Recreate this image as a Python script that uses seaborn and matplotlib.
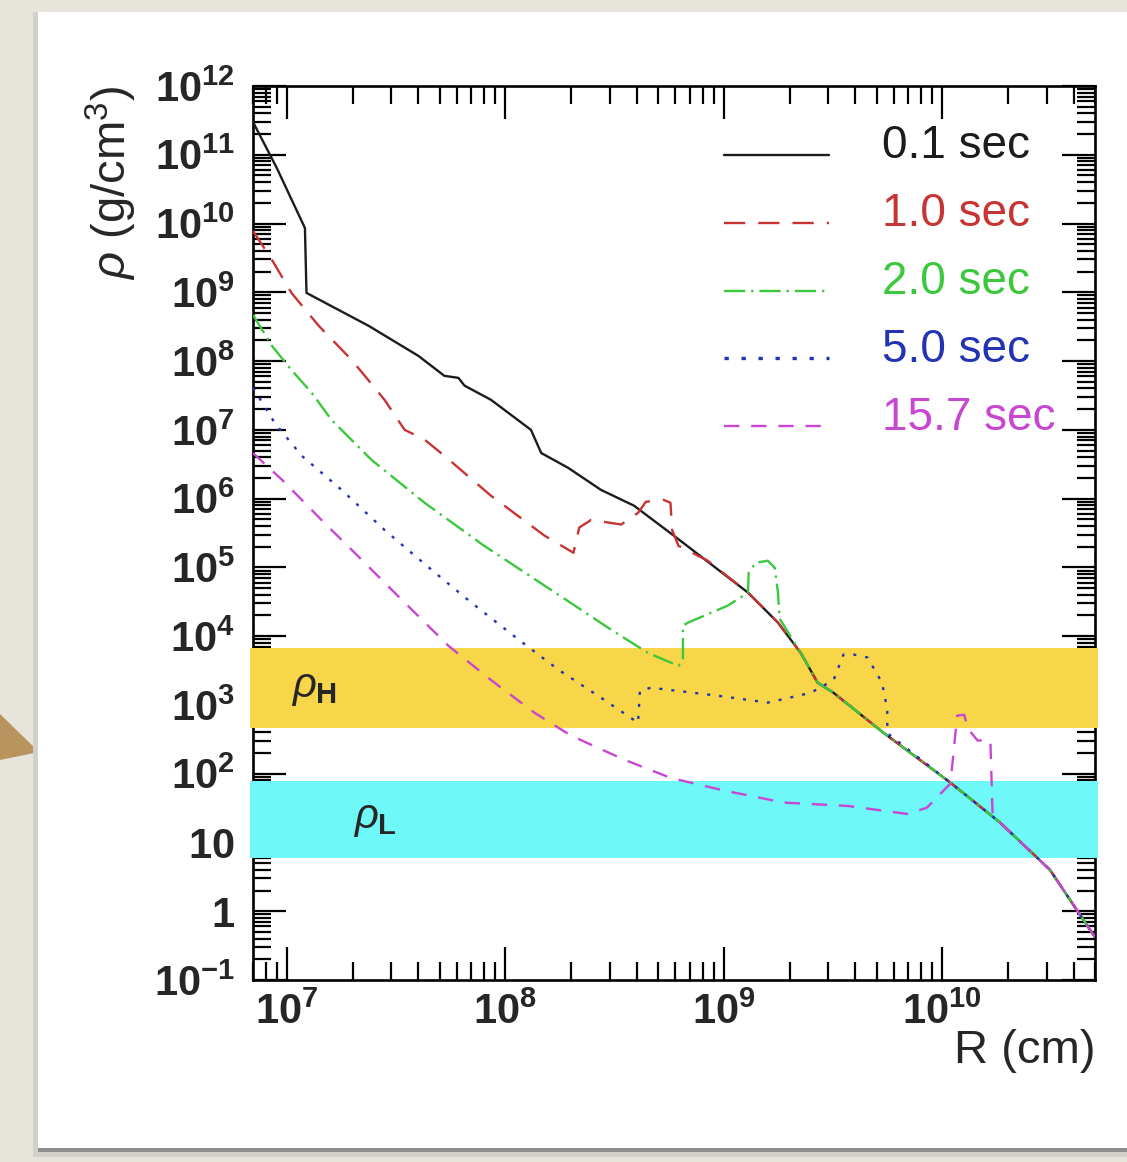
import numpy as np
import pandas as pd
import matplotlib
matplotlib.use("Agg")
import matplotlib.pyplot as plt
import seaborn as sns
from matplotlib.patches import Rectangle, Polygon
from matplotlib.ticker import LogLocator, FuncFormatter, NullFormatter

# ---- density profiles rho(R) at several times after bounce ----
# common outer envelope shared by all snapshots
r_tail = [1.29e9, 1.77e9, 2.25e9, 2.69e9, 3.18e9, 5.4e9, 1.09e10, 1.84e10, 3.11e10, 4.74e10, 5.0e10]
rho_tail = [4.3e4, 1.57e4, 5.7e3, 2.1e3, 1.5e3, 3.9e2, 74, 19.4, 4.0, 0.54, 0.42]

r_t01 = [7.0e6, 9.0e6, 1.21e7, 1.23e7, 2.37e7, 4.0e7, 5.26e7, 6.1e7, 6.5e7, 8.6e7,
         1.31e8, 1.46e8, 1.94e8, 2.74e8, 3.88e8, 5.9e8]
rho_t01 = [3.0e11, 6.4e10, 8.6e9, 9.8e8, 3.25e8, 1.19e8, 6.1e7, 5.7e7, 4.4e7, 2.73e7,
           1.0e7, 4.6e6, 2.8e6, 1.34e6, 7.9e5, 2.9e5]

r_t10 = [7.0e6, 8.55e6, 1.05e7, 1.40e7, 1.98e7, 2.80e7, 3.46e7, 4.27e7, 5.26e7, 8.6e7,
         1.51e8, 2.05e8, 2.18e8, 2.47e8, 3.39e8, 4.05e8, 4.4e8, 5.3e8, 5.7e8, 5.8e8,
         6.2e8, 8.45e8]
rho_t10 = [7.8e9, 2.96e9, 9.8e8, 3.25e8, 1.04e8, 2.73e7, 1.0e7, 7.2e6, 4.2e6, 1.1e6,
           2.9e5, 1.63e5, 3.8e5, 4.9e5, 4.2e5, 6.2e5, 9.0e5, 9.6e5, 8.7e5, 3.5e5,
           2.06e5, 1.25e5]

r_t20 = [7.0e6, 8.55e6, 1.05e7, 1.30e7, 1.60e7, 2.44e7, 4.27e7, 8.0e7, 1.62e8, 3.05e8,
         4.5e8, 6.2e8, 6.5e8, 6.5e8, 6.85e8, 1.04e9, 1.29e9, 1.3e9, 1.4e9, 1.59e9,
         1.71e9, 1.77e9, 1.8e9]
rho_t20 = [4.7e8, 1.66e8, 7.4e7, 3.45e7, 1.40e7, 3.66e6, 8.7e5, 2.06e5, 4.7e4, 1.24e4,
           5.7e3, 3.7e3, 4.5e3, 1.42e4, 1.57e4, 2.77e4, 4.3e4, 8.4e4, 1.17e5, 1.25e5,
           9.9e4, 4.3e4, 1.8e4]

r_t50 = [7.0e6, 8.8e6, 1.17e7, 1.78e7, 2.80e7, 4.6e7, 7.0e7, 1.15e8, 1.75e8, 2.83e8,
         4.05e8, 4.13e8, 4.64e8, 9.4e8, 1.59e9, 2.5e9, 3.18e9, 3.53e9, 3.93e9, 4.55e9,
         5.3e9, 5.6e9, 5.6e9]
rho_t50 = [4.1e7, 1.26e7, 4.2e6, 1.34e6, 3.5e5, 9.2e4, 3.06e4, 8.9e3, 3.25e3, 1.19e3,
           5.5e2, 1.61e3, 1.78e3, 1.36e3, 1.08e3, 1.5e3, 2.3e3, 5.4e3, 5.4e3, 4.9e3,
           2.1e3, 8.6e2, 3.9e2]

r_t157 = [7.0e6, 9.5e6, 1.44e7, 2.2e7, 3.35e7, 5.5e7, 8.6e7, 1.36e8, 2.0e8, 3.5e8,
          5.7e8, 1.0e9, 1.88e9, 3.68e9, 6.9e9, 8.5e9, 1.09e10, 1.17e10, 1.26e10, 1.31e10,
          1.45e10, 1.66e10, 1.7e10]
rho_t157 = [4.6e6, 1.88e6, 4.9e5, 1.29e5, 3.4e4, 7.2e3, 2.3e3, 770, 357, 160,
            87, 57, 38, 34, 26, 32, 72, 700, 720, 450,
            304, 304, 24]

labels = ["0.1 sec", "1.0 sec", "2.0 sec", "5.0 sec", "15.7 sec"]
colors = ["#1c1c1c", "#c83434", "#3cc83c", "#2432b4", "#c846d2"]

# density bands (g/cm^3)
band_H = (4.6e2, 6.7e3)
band_L = (6.0, 78.0)


def profile(r, rho, r_env, rho_env, start):
    return list(r) + list(r_env[start:]), list(rho) + list(rho_env[start:])


series = [
    profile(r_t01, rho_t01, r_tail, rho_tail, 0),
    profile(r_t10, rho_t10, r_tail, rho_tail, 0),
    profile(r_t20, rho_t20, r_tail, rho_tail, 2),
    profile(r_t50, rho_t50, r_tail, rho_tail, 6),
    profile(r_t157, rho_t157, r_tail, rho_tail, 7),
]

frames = []
for lab, (r, rho) in zip(labels, series):
    frames.append(pd.DataFrame({"R": r, "rho": rho, "t": lab}))
df = pd.concat(frames, ignore_index=True)

sns.set_style("white")
plt.rcParams["font.family"] = ["Liberation Sans", "DejaVu Sans"]
plt.rcParams["mathtext.fontset"] = "custom"
plt.rcParams["mathtext.rm"] = "Liberation Sans"
plt.rcParams["mathtext.it"] = "Liberation Sans:italic"
plt.rcParams["mathtext.bf"] = "Liberation Sans:bold"

W, H = 1127, 1162
fig = plt.figure(figsize=(W / 100, H / 100), dpi=100)
fig.patch.set_facecolor("#e7e4dc")


def fx(px):
    return px / W


def fy(py):
    return 1 - py / H


# paper card with its shadow and the pointer wedge on the left
deco = [
    Polygon([(fx(0), fy(714)), (fx(39), fy(752)), (fx(0), fy(760))], closed=True,
            facecolor="#b8955f"),
    Rectangle((fx(33), fy(1157)), fx(1127 - 33), fy(12) - fy(1157), facecolor="#d2d0cb"),
    Rectangle((fx(38), fy(1152)), fx(1127 - 38), fy(1148) - fy(1152), facecolor="#8e8e8c"),
    Rectangle((fx(38), fy(1148)), fx(1127 - 38), fy(12) - fy(1148), facecolor="white"),
]
for k, p in enumerate(deco):
    p.set_transform(fig.transFigure)
    p.set_edgecolor("none")
    p.set_zorder(-5 + k * 0.1)
    fig.patches.append(p)

ax = fig.add_axes([fx(253), fy(980), fx(1095 - 253), fy(86) - fy(980)])
ax.set_facecolor("none")

palette = dict(zip(labels, colors))
dashes = {
    "0.1 sec": "",
    "1.0 sec": (9, 5.5),
    "2.0 sec": (9, 2.5, 1, 2.5),
    "5.0 sec": (1.3, 3.8),
    "15.7 sec": (6.5, 5),
}

sns.lineplot(data=df, x="R", y="rho", hue="t", style="t",
             palette=palette, dashes=dashes, sort=False, estimator=None,
             linewidth=1.7, ax=ax, zorder=4, legend="full")
for ln in ax.get_lines():
    if ln.get_label() == "5.0 sec":
        ln.set_linewidth(2.4)

ax.set_xscale("log")
ax.set_yscale("log")
ax.set_xlim(7.0e6, 5.0e10)
ax.set_ylim(0.1, 1e12)

# density bands drawn over the frame
for (lo, hi), c in ((band_H, "#f8d649"), (band_L, "#6ef8f8")):
    ax.axhspan(lo, hi, xmin=-0.004, xmax=1.003, facecolor=c, edgecolor="none",
               zorder=3, clip_on=False)

ax.text(1.05e7, np.sqrt(band_H[0] * band_H[1]), r"$\rho_{\mathbf{H}}$", fontsize=30,
        ha="left", va="center", zorder=5)
ax.text(2.0e7, np.sqrt(band_L[0] * band_L[1]), r"$\rho_{\mathbf{L}}$", fontsize=30,
        ha="left", va="center", zorder=5)


def decade_label(v, pos):
    n = int(round(np.log10(v)))
    if n == 0:
        return r"$\mathbf{1}$"
    if n == 1:
        return r"$\mathbf{10}$"
    return r"$\mathbf{10}^{\mathbf{%d}}$" % n


ax.xaxis.set_major_locator(LogLocator(base=10, numticks=20))
ax.xaxis.set_minor_locator(LogLocator(base=10, subs=np.arange(2, 10), numticks=40))
ax.yaxis.set_major_locator(LogLocator(base=10, numticks=30))
ax.yaxis.set_minor_locator(LogLocator(base=10, subs=np.arange(2, 10), numticks=200))
ax.xaxis.set_major_formatter(FuncFormatter(decade_label))
ax.yaxis.set_major_formatter(FuncFormatter(decade_label))
ax.xaxis.set_minor_formatter(NullFormatter())
ax.yaxis.set_minor_formatter(NullFormatter())

ax.tick_params(which="both", direction="in", top=True, right=True, bottom=True,
               left=True, width=1.6, color="black", labelsize=30)
ax.tick_params(which="major", length=24)
ax.tick_params(which="minor", length=13)
ax.tick_params(axis="x", which="major", pad=9)
ax.tick_params(axis="y", which="major", pad=13)
for s in ax.spines.values():
    s.set_linewidth(1.9)
    s.set_color("black")
    s.set_visible(True)

ax.set_xlabel("R (cm)", fontsize=34, loc="right")
ax.xaxis.set_label_coords(1.0, -0.055)
ax.set_ylabel(r"$\rho$ (g/cm$^{3}$)", fontsize=34, loc="top")
ax.yaxis.set_label_coords(-0.135, 1.0)

handles, labs = ax.get_legend_handles_labels()
leg = ax.legend(handles, labs, loc="upper right", bbox_to_anchor=(0.953, 0.957),
                frameon=False, fontsize=33, handlelength=2.3, handletextpad=1.15,
                labelspacing=0.52, borderpad=0, borderaxespad=0, labelcolor="linecolor")
leg.set_zorder(6)
# sample lines sit near the text baseline
for ln in leg.get_lines():
    ln.set_ydata([v - 9 for v in ln.get_ydata()])

fig.savefig("out.png", dpi=100, facecolor=fig.get_facecolor())
